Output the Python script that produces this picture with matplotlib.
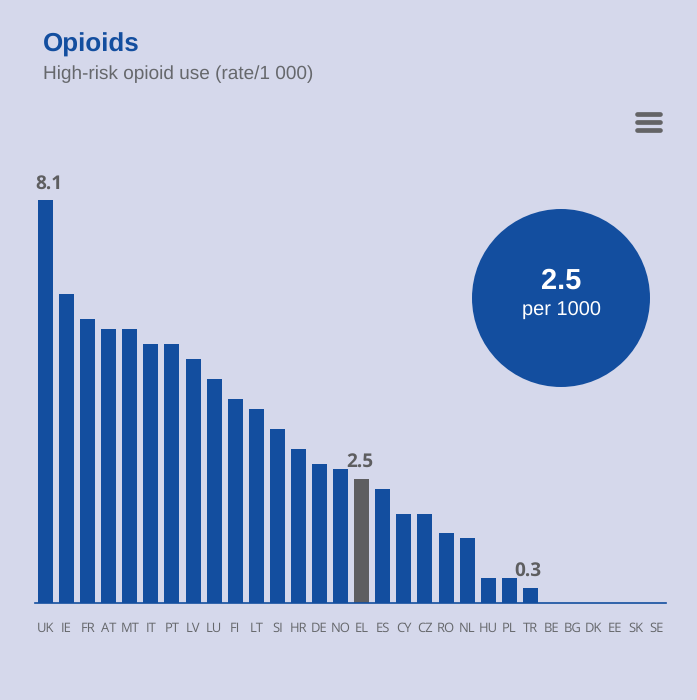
import matplotlib
matplotlib.use('Agg')
import matplotlib.pyplot as plt
from matplotlib.patches import Circle

plt.rcParams['text.hinting'] = 'none'
plt.rcParams['text.hinting_factor'] = 1

countries = ['UK','IE','FR','AT','MT','IT','PT','LV','LU','FI','LT','SI','HR','DE','NO','EL',
             'ES','CY','CZ','RO','NL','HU','PL','TR','BE','BG','DK','EE','SK','SE']
rates = [8.1,6.2,5.7,5.5,5.5,5.2,5.2,4.9,4.5,4.1,3.9,3.5,3.1,2.8,2.7,2.5,
         2.3,1.8,1.8,1.4,1.3,0.5,0.5,0.3,0,0,0,0,0,0]
labelled = {'UK': 3.0, 'EL': -2.0, 'TR': -2.0}
highlight = 'EL'

BG = '#D5D8EB'; BLUE = '#134E9F'; GREY = '#5E5E60'; W, H = 697, 700
fig = plt.figure(figsize=(W/100, H/100), dpi=100, facecolor=BG)

L, R, T, B = 35, 666, 150, 603.2
ax = fig.add_axes([L/W, 1-B/H, (R-L)/W, (B-T)/H], facecolor='none')
step = 21.08; x0 = 45.5
ax.set_xlim((L-x0)/step, (R-x0)/step)
ax.set_ylim(0, (B-T)/49.8)
xs = list(range(len(countries)))
colors = [GREY if c == highlight else BLUE for c in countries]
ax.bar(xs, rates, width=0.71, color=colors, linewidth=0)
for s in ['top','left','right']:
    ax.spines[s].set_visible(False)
ax.spines['bottom'].set_color(BLUE); ax.spines['bottom'].set_linewidth(1.2)
ax.set_yticks([])
ax.set_xticks(xs, countries, family='Open Sans', fontsize=9, color='#66686C')
ax.tick_params(axis='x', length=0, pad=13.5)
for c, x, v in zip(countries, xs, rates):
    if c in labelled:
        ax.annotate(f'{v}', (x, v), xytext=(labelled[c]*0.72, 4.8), textcoords='offset points', ha='center', va='bottom',
                    family='Open Sans', fontweight='bold', fontsize=14, color=GREY)

ov = fig.add_axes([0, 0, 1, 1], facecolor='none')
ov.set_xlim(0, W); ov.set_ylim(H, 0); ov.axis('off')
ov.add_patch(Circle((561, 298), 89, color=BLUE, lw=0))
ov.text(561, 281, '2.5', ha='center', va='center', family='Liberation Sans', fontweight='bold', fontsize=21, color='white')
ov.text(561, 311, 'per 1000', ha='center', va='center', family='Liberation Sans', fontsize=14.2, color='white')
ov.text(43, 45, 'Opioids', ha='left', va='center', family='Liberation Sans', fontweight='bold', fontsize=18.5, color=BLUE)
ov.text(43, 74.5, 'High-risk opioid use (rate/1 000)', ha='left', va='center', family='Liberation Sans', fontsize=13.5, color='#66686C')
for y in (114, 122, 130):
    ov.plot([637, 660], [y, y], color='#646466', lw=3.4, solid_capstyle='round')

fig.savefig('out.png', dpi=100, facecolor=BG)
